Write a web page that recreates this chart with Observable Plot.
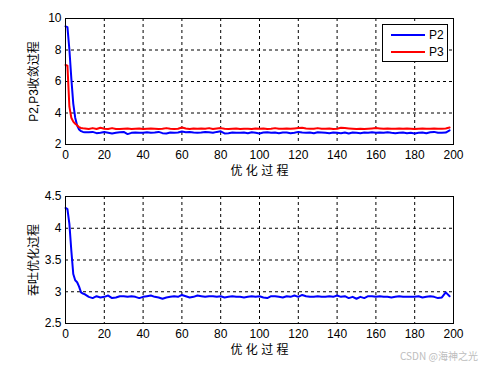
<!DOCTYPE html>
<html>
<head>
<meta charset="utf-8">
<script src="https://cdn.jsdelivr.net/npm/d3@7"></script>
<script src="https://cdn.jsdelivr.net/npm/@observablehq/plot@0.6"></script>
<style>
  body { margin: 0; background: #fff; }
  #wrap { position: relative; width: 480px; height: 368px; background: #fff; overflow: hidden; font-family: "Liberation Sans", "Noto Sans CJK SC", sans-serif; }
  #wrap svg { display: block; }
  .legend { position: absolute; left: 382px; top: 24px; width: 64px; height: 36px; border: 1px solid #000; background: #fff; font: 12px "Liberation Sans", Arial, sans-serif; }
  .legend .row { position: absolute; left: 0; width: 64px; height: 14px; }
  .legend .sw { position: absolute; left: 8px; width: 34px; height: 0; border-top: 2px solid; top: 6px; }
  .legend .lb { position: absolute; left: 46px; top: 0; line-height: 14px; }
  .wm { position: absolute; left: 400px; top: 348px; font: 10px "Noto Sans CJK SC", sans-serif; color: #bdbdbd; white-space: nowrap; }
</style>
</head>
<body>
<div id="wrap"></div>
<script>
// iteration index (x)
const iter = [0, 1, 2, 3, 4, 5, 6, 7, 8, 9, ...d3.range(10, 199, 2)];
const xTicks = [0, 20, 40, 60, 80, 100, 120, 140, 160, 180, 200];

// P2 convergence (blue)
const p2 = [
  9.5, 9.45, 8.03, 6.2, 4.6, 3.7, 3.2, 2.95, 2.85, 2.8,
  2.78, 2.78, 2.80, 2.72, 2.75, 2.80, 2.75, 2.70, 2.74, 2.78,
  2.80, 2.66, 2.74, 2.76, 2.74, 2.74, 2.78, 2.74, 2.76, 2.80,
  2.72, 2.70, 2.76, 2.74, 2.76, 2.82, 2.78, 2.80, 2.76, 2.74,
  2.76, 2.80, 2.78, 2.74, 2.80, 2.84, 2.70, 2.72, 2.76, 2.74,
  2.74, 2.76, 2.72, 2.78, 2.74, 2.70, 2.76, 2.78, 2.74, 2.76,
  2.72, 2.76, 2.76, 2.72, 2.74, 2.80, 2.76, 2.74, 2.76, 2.72,
  2.78, 2.76, 2.74, 2.72, 2.76, 2.74, 2.72, 2.76, 2.70, 2.76,
  2.74, 2.72, 2.76, 2.74, 2.78, 2.74, 2.76, 2.74, 2.78, 2.74,
  2.72, 2.74, 2.76, 2.72, 2.74, 2.70, 2.74, 2.76, 2.72, 2.78,
  2.80, 2.74, 2.74, 2.76, 2.90
];
// P3 convergence (red)
const p3 = [
  7.05, 7.0, 4.4, 3.7, 3.45, 3.32, 3.22, 3.1, 3.05, 3.03,
  3.02, 2.98, 3.04, 2.98, 3.06, 3.00, 2.98, 3.04, 2.98, 2.98,
  3.00, 3.02, 2.98, 3.00, 3.02, 2.98, 3.00, 3.02, 3.00, 2.98,
  3.00, 3.04, 3.00, 2.98, 3.00, 3.08, 3.02, 2.98, 3.02, 3.00,
  3.02, 3.00, 3.04, 2.98, 3.02, 3.04, 3.00, 2.98, 3.00, 3.02,
  2.98, 3.00, 3.00, 2.98, 3.02, 3.00, 3.02, 2.98, 3.00, 3.04,
  3.00, 3.00, 3.02, 3.00, 3.02, 3.04, 3.06, 3.02, 3.00, 3.00,
  3.04, 3.00, 3.00, 3.02, 2.98, 3.00, 3.06, 3.04, 3.02, 3.00,
  2.98, 3.00, 2.98, 3.00, 3.02, 3.04, 3.02, 3.00, 3.02, 3.00,
  3.00, 3.02, 3.00, 3.02, 3.00, 2.98, 3.00, 3.02, 3.00, 3.00,
  3.02, 3.00, 3.00, 3.02, 3.08
];
// throughput optimisation (blue)
const tput = [
  4.32, 4.30, 4.07, 3.65, 3.28, 3.18, 3.15, 3.08, 2.99, 2.97,
  2.96, 2.92, 2.90, 2.93, 2.91, 2.92, 2.94, 2.90, 2.91, 2.93,
  2.93, 2.92, 2.93, 2.92, 2.90, 2.92, 2.93, 2.94, 2.92, 2.91,
  2.89, 2.91, 2.92, 2.93, 2.92, 2.95, 2.93, 2.91, 2.92, 2.94,
  2.93, 2.92, 2.93, 2.93, 2.92, 2.93, 2.91, 2.92, 2.93, 2.92,
  2.92, 2.91, 2.92, 2.93, 2.92, 2.93, 2.91, 2.90, 2.93, 2.93,
  2.92, 2.91, 2.93, 2.92, 2.94, 2.92, 2.95, 2.93, 2.92, 2.92,
  2.93, 2.92, 2.92, 2.93, 2.92, 2.94, 2.92, 2.93, 2.90, 2.92,
  2.89, 2.92, 2.90, 2.93, 2.93, 2.92, 2.93, 2.92, 2.92, 2.91,
  2.92, 2.93, 2.92, 2.92, 2.92, 2.92, 2.93, 2.91, 2.92, 2.93,
  2.92, 2.90, 2.91, 2.99, 2.93
];

const top1 = iter.map((x, i) => ({x, y: p2[i], s: "P2"}));
const top2 = iter.map((x, i) => ({x, y: p3[i], s: "P3"}));
const bot = iter.map((x, i) => ({x, y: tput[i]}));

const font = "'Liberation Sans', 'Noto Sans CJK SC', sans-serif";
const grid = {stroke: "#000", strokeOpacity: 1, strokeDasharray: "3,3", strokeWidth: 1};

function panel({height, marginTop, marginBottom, yDomain, yTicks, yLabel, lines}) {
  return Plot.plot({
    width: 480, height, marginLeft: 65, marginRight: 27, marginTop, marginBottom,
    style: {fontFamily: font, fontSize: "12px", color: "#000", background: "transparent"},
    x: {domain: [0, 200]},
    y: {domain: yDomain},
    marks: [
      Plot.gridX(xTicks, grid),
      Plot.gridY(yTicks, grid),
      ...lines,
      Plot.frame({stroke: "#000", strokeWidth: 1}),
      Plot.axisX(xTicks, {tickSize: 0, tickPadding: 6, fontSize: 12, label: "优 化 过 程", labelAnchor: "center", labelArrow: "none", labelOffset: 30}),
      Plot.axisY(yTicks, {tickSize: 0, tickPadding: 4, fontSize: 12, tickFormat: d => String(d), label: yLabel, labelAnchor: "center", labelArrow: "none", labelOffset: 36})
    ]
  });
}

const wrap = document.getElementById("wrap");
wrap.appendChild(panel({
  height: 180, marginTop: 18, marginBottom: 36,
  yDomain: [2, 10], yTicks: [2, 4, 6, 8, 10], yLabel: "P2,P3收敛过程",
  lines: [
    Plot.line(top1, {x: "x", y: "y", stroke: "#0000ff", strokeWidth: 2, curve: "linear"}),
    Plot.line(top2, {x: "x", y: "y", stroke: "#ff0000", strokeWidth: 2, curve: "linear"})
  ]
}));
wrap.appendChild(panel({
  height: 188, marginTop: 16, marginBottom: 45,
  yDomain: [2.5, 4.5], yTicks: [2.5, 3, 3.5, 4, 4.5], yLabel: "吞吐优化过程",
  lines: [Plot.line(bot, {x: "x", y: "y", stroke: "#0000ff", strokeWidth: 2})]
}));

// legend
const series = ["P2", "P3"];
const colors = ["#0000ff", "#ff0000"];
const lg = document.createElement("div");
lg.className = "legend";
series.forEach((s, i) => {
  const r = document.createElement("div");
  r.className = "row";
  r.style.top = (3 + i * 17) + "px";
  r.innerHTML = `<div class="sw" style="border-color:${colors[i]}"></div><div class="lb">${s}</div>`;
  lg.appendChild(r);
});
wrap.appendChild(lg);

const wm = document.createElement("div");
wm.className = "wm";
wm.textContent = "CSDN @海神之光";
wrap.appendChild(wm);
</script>
</body>
</html>
